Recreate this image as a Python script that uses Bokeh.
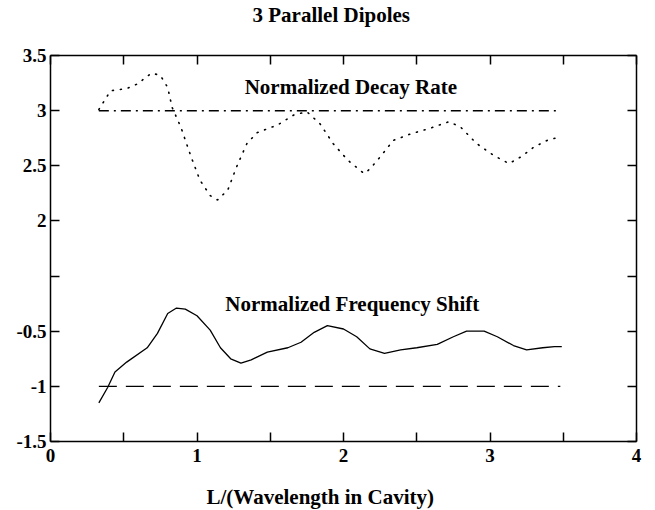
from bokeh.plotting import figure
from bokeh.models import Range1d, LinearAxis, FixedTicker, Label, Title
from bokeh.embed import file_html
from bokeh.resources import INLINE

# ---- data ----
x_decay = [0.33, 0.41, 0.52, 0.59, 0.69, 0.75, 0.80, 0.83, 0.89, 0.96, 1.02, 1.09,
           1.14, 1.21, 1.27, 1.34, 1.41, 1.55, 1.66, 1.75, 1.84, 1.93, 2.03, 2.14,
           2.18, 2.25, 2.34, 2.46, 2.59, 2.72, 2.80, 2.91, 3.03, 3.13, 3.21, 3.30,
           3.39, 3.47]
decay = [3.01, 3.18, 3.20, 3.24, 3.34, 3.32, 3.21, 3.03, 2.85, 2.58, 2.37, 2.23,
         2.19, 2.28, 2.49, 2.70, 2.80, 2.87, 2.96, 2.99, 2.88, 2.70, 2.55, 2.43,
         2.47, 2.58, 2.73, 2.79, 2.84, 2.90, 2.85, 2.70, 2.59, 2.52, 2.58, 2.67,
         2.73, 2.76]

x_shift = [0.33, 0.39, 0.44, 0.52, 0.66, 0.73, 0.80, 0.86, 0.92, 1.00, 1.09, 1.16,
           1.23, 1.30, 1.37, 1.48, 1.62, 1.71, 1.80, 1.89, 2.00, 2.09, 2.18, 2.28,
           2.39, 2.50, 2.64, 2.75, 2.84, 2.96, 3.05, 3.16, 3.25, 3.36, 3.44, 3.49]
shift = [-1.15, -1.01, -0.87, -0.78, -0.65, -0.52, -0.34, -0.29, -0.30, -0.36, -0.49, -0.65,
         -0.75, -0.79, -0.76, -0.69, -0.65, -0.60, -0.51, -0.45, -0.48, -0.55, -0.66, -0.70,
         -0.67, -0.65, -0.62, -0.55, -0.50, -0.50, -0.55, -0.63, -0.67, -0.65, -0.64, -0.64]

x_ref = [0.33, 3.48]
decay_ref = [3.0, 3.0]
shift_ref = [-1.0, -1.0]

x_major = [0, 1, 2, 3, 4]
x_labels = ["0", "1", "2", "3", "4"]
x_minor = [0.5, 1.5, 2.5, 3.5]
# shared left axis: lower half = frequency shift, upper half = decay rate (offset by 1.5)
y_major = [-1.5, -1.0, -0.5, 0.5, 1.0, 1.5, 2.0]
y_labels = ["-1.5", "-1", "-0.5", "2", "2.5", "3", "3.5"]
y_minor = [0.0]

FONT = "Liberation Serif"

p = figure(frame_width=586, frame_height=386,
           x_range=Range1d(0, 4), y_range=Range1d(-1.5, 2.0),
           output_backend="svg", toolbar_location=None,
           min_border_left=50, min_border_right=19, min_border_top=55, min_border_bottom=69,
           background_fill_color="white", border_fill_color="white")
p.extra_y_ranges = {"upper": Range1d(0.0, 3.5)}
p.grid.visible = False
p.outline_line_color = None

# title: second (blank) line lifts the text within the fixed top border
p.title.text = "3 Parallel Dipoles\n "
p.title.text_font = FONT
p.title.text_font_style = "bold"
p.title.text_font_size = "21px"
p.title.text_color = "black"
p.title.text_line_height = 1.2
p.title.align = "left"
p.title.offset = 202
p.title.standoff = 0

def style_axis(ax):
    ax.axis_line_color = "black"
    ax.axis_line_width = 1.5
    for k in ("major", "minor"):
        setattr(ax, f"{k}_tick_line_color", "black")
        setattr(ax, f"{k}_tick_line_width", 1.5)
        setattr(ax, f"{k}_tick_in", 9)
        setattr(ax, f"{k}_tick_out", 0)
    ax.major_label_text_font = FONT
    ax.major_label_text_font_style = "bold"
    ax.major_label_text_color = "black"
    ax.major_label_text_font_size = "19px"

xa = p.xaxis[0]
xa.ticker = FixedTicker(ticks=x_major, minor_ticks=x_minor)
xa.major_label_overrides = {float(t): l for t, l in zip(x_major, x_labels)}
style_axis(xa)
xa.major_label_standoff = 7

ya = p.yaxis[0]
ya.ticker = FixedTicker(ticks=y_major, minor_ticks=y_minor)
ya.major_label_overrides = {float(t): l for t, l in zip(y_major, y_labels)}
style_axis(ya)
ya.major_label_standoff = 4

top = LinearAxis(ticker=FixedTicker(ticks=[], minor_ticks=x_major + x_minor))
style_axis(top)
p.add_layout(top, "above")
right = LinearAxis(ticker=FixedTicker(ticks=[], minor_ticks=y_major + y_minor))
style_axis(right)
p.add_layout(right, "right")

# x-axis title: leading blank line pushes the text down without a large standoff
xlabel = Title(text=" \nL/(Wavelength in Cavity)", text_font=FONT, text_font_style="bold",
               text_font_size="21px", text_color="black", align="left", offset=156,
               standoff=0, text_line_height=0.8)
p.add_layout(xlabel, "below")

# curves
p.line(x_decay, decay, y_range_name="upper", line_color="black", line_width=1.6,
       line_dash="1 7", line_cap="round")
p.line(x_ref, decay_ref, y_range_name="upper", line_color="black", line_width=1.5,
       line_dash="10 5 2 5")
p.line(x_shift, shift, line_color="black", line_width=1.3)
p.line(x_ref, shift_ref, line_color="black", line_width=1.3, line_dash="18 9")

def bold_label(x, y, text, range_name="default"):
    return Label(x=x, y=y, y_range_name=range_name, text=text,
                 text_font=FONT, text_font_style="bold", text_font_size="21px",
                 text_align="center", text_baseline="middle", text_color="black")

p.add_layout(bold_label(2.05, 3.21, "Normalized Decay Rate", "upper"))
p.add_layout(bold_label(2.06, -0.253, "Normalized Frequency Shift"))

open("out.html", "w").write(file_html(p, INLINE))
